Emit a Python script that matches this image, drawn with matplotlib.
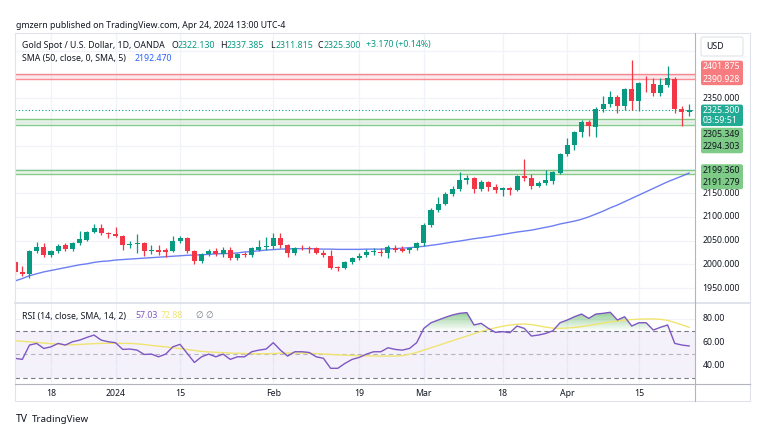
import numpy as np
import matplotlib
matplotlib.use("Agg")
import matplotlib.pyplot as plt
from matplotlib.patches import FancyBboxPatch, Rectangle
from matplotlib.colors import LinearSegmentedColormap
from matplotlib.path import Path

plt.rcParams['font.family'] = ['Noto Sans', 'DejaVu Sans']

# ---------------- data ----------------
opens = [2005, 1983, 1979, 2027, 2036, 2019, 2027, 2040, 2032, 2045,
         2052, 2068, 2076, 2066, 2064, 2059, 2040, 2043, 2045, 2028,
         2031, 2030, 2028, 2049, 2055, 2028, 2006, 2022, 2029, 2021,
         2030, 2014, 2021, 2020, 2031, 2037, 2038, 2055, 2040, 2024,
         2035, 2035, 2034, 2024, 2018, 1994, 1993, 2004, 2014, 2019,
         2025, 2026, 2024, 2035, 2032, 2030, 2034, 2044, 2083, 2114,
         2127, 2148, 2159, 2178, 2182, 2158, 2174, 2162, 2156, 2160,
         2157, 2186, 2181, 2165, 2171, 2176, 2193, 2233, 2251, 2280,
         2299, 2290, 2328, 2339, 2352, 2333, 2370, 2344, 2383, 2381,
         2361, 2379, 2391, 2327, 2322.130]
highs = [2008, 1996, 2030, 2047, 2045, 2030, 2043, 2045, 2048, 2071,
         2070, 2084, 2086, 2069, 2079, 2061, 2050, 2064, 2048, 2040,
         2040, 2035, 2060, 2059, 2058, 2031, 2024, 2033, 2035, 2036,
         2036, 2023, 2025, 2036, 2051, 2058, 2066, 2065, 2043, 2037,
         2040, 2038, 2036, 2030, 2030, 1996, 2008, 2016, 2024, 2032,
         2035, 2035, 2041, 2040, 2039, 2037, 2047, 2088, 2119, 2141,
         2152, 2165, 2195, 2189, 2185, 2177, 2176, 2170, 2164, 2164,
         2188, 2222, 2191, 2176, 2199, 2197, 2235, 2266, 2281, 2305,
         2305, 2331, 2354, 2365, 2358, 2372, 2431, 2384, 2397, 2392,
         2392, 2418, 2395, 2333, 2337.385]
lows = [1978, 1976, 1972, 2024, 2015, 2016, 2024, 2029, 2029, 2040,
        2050, 2066, 2062, 2056, 2057, 2031, 2035, 2024, 2017, 2022,
        2020, 2016, 2025, 2045, 2024, 2001, 2002, 2018, 2017, 2015,
        2010, 2010, 2015, 2016, 2028, 2031, 2033, 2034, 2015, 2020,
        2030, 2023, 2021, 2015, 1990, 1985, 1990, 2001, 2010, 2015,
        2020, 2017, 2014, 2025, 2026, 2024, 2030, 2038, 2079, 2111,
        2124, 2144, 2155, 2170, 2150, 2155, 2155, 2150, 2145, 2146,
        2155, 2175, 2159, 2162, 2167, 2170, 2190, 2229, 2240, 2268,
        2270, 2268, 2321, 2331, 2318, 2325, 2326, 2324, 2363, 2355,
        2355, 2373, 2320, 2291, 2311.815]
closes = [1983, 1979, 2027, 2036, 2019, 2027, 2039, 2032, 2045, 2054,
          2068, 2076, 2065, 2063, 2060, 2040, 2043, 2045, 2028, 2030,
          2026, 2025, 2049, 2055, 2028, 2006, 2021, 2029, 2022, 2030,
          2013, 2021, 2019, 2034, 2037, 2039, 2056, 2040, 2024, 2035,
          2034, 2033, 2024, 2019, 1993, 1992, 2004, 2014, 2018, 2026,
          2027, 2024, 2037, 2031, 2029, 2034, 2044, 2083, 2114, 2127,
          2148, 2159, 2178, 2182, 2158, 2174, 2162, 2156, 2160, 2157,
          2186, 2181, 2165, 2172, 2178, 2194, 2233, 2252, 2280, 2299,
          2291, 2328, 2339, 2352, 2333, 2370, 2344, 2383, 2382, 2361,
          2379, 2392, 2327, 2322.130, 2325.300]
sma50 = [1965, 1970, 1976, 1980, 1984, 1987, 1990, 1993, 1996, 1999,
         2001, 2004, 2006, 2007, 2009, 2010, 2011, 2012, 2013, 2014,
         2015, 2016, 2017, 2018, 2019, 2019.5, 2020, 2021, 2022, 2022.5,
         2023, 2024, 2026, 2027, 2028.5, 2030, 2031, 2032, 2032.5, 2033,
         2033, 2033, 2032.5, 2032, 2032, 2031.5, 2031.5, 2031.5, 2031.5, 2032,
         2032, 2032, 2032.5, 2033, 2034, 2035, 2036.5, 2038, 2040, 2042,
         2044.5, 2047, 2049, 2051.5, 2054, 2056, 2058, 2060.5, 2063, 2065.5,
         2068, 2070, 2072, 2075, 2078, 2081, 2085, 2088, 2091, 2095,
         2100, 2106, 2112, 2119, 2125, 2132, 2139, 2146, 2153, 2160,
         2167, 2174, 2180, 2186, 2192.470]
rsi = [46.5, 45.6, 57.8, 59.2, 54.9, 56.3, 59.2, 57.8, 60.6, 62.0,
       64.3, 66.3, 62.0, 60.6, 59.8, 54.1, 54.4, 53.5, 49.8, 50.1,
       47.8, 50.1, 56.3, 58.4, 50.7, 43.0, 47.8, 50.1, 47.8, 50.1,
       45.6, 47.8, 47.8, 52.1, 53.5, 54.4, 59.8, 53.5, 48.4, 52.1,
       52.1, 51.5, 47.8, 46.5, 38.0, 38.0, 42.2, 45.6, 47.3, 50.1,
       52.1, 52.1, 55.5, 54.1, 53.5, 54.9, 59.8, 72.0, 76.8, 79.1,
       81.4, 83.4, 84.8, 85.4, 74.9, 76.3, 72.0, 68.6, 69.2, 68.3,
       74.0, 72.0, 65.5, 66.3, 67.7, 70.0, 76.8, 79.1, 81.9, 84.2,
       80.5, 84.2, 84.8, 85.7, 79.1, 81.9, 74.0, 76.8, 76.8, 70.6,
       72.9, 74.9, 59.2, 57.8, 57.03]
rsi_ma = [61.4, 61.0, 60.5, 60.0, 59.5, 59.0, 58.5, 58.0, 58.0, 58.3,
          58.7, 59.0, 59.2, 59.3, 59.3, 59.2, 59.2, 58.8, 58.3, 57.5,
          56.8, 56.3, 55.5, 54.8, 54.0, 53.2, 52.4, 52.0, 51.6, 51.3,
          51.0, 50.8, 50.6, 50.5, 50.4, 50.4, 50.6, 50.8, 51.0, 51.0,
          51.0, 50.8, 50.5, 50.2, 49.8, 49.5, 49.2, 48.9, 48.7, 48.6,
          48.5, 48.4, 48.4, 48.4, 48.8, 50.0, 51.5, 53.5, 55.5, 57.5,
          59.5, 61.5, 63.5, 65.5, 67.5, 69.5, 71.0, 72.5, 73.8, 74.8,
          75.5, 75.7, 75.2, 74.2, 73.0, 72.2, 72.0, 72.3, 72.8, 73.5,
          74.5, 75.5, 76.5, 77.5, 78.3, 79.0, 79.5, 79.8, 80.0, 80.0,
          79.7, 78.8, 77.0, 75.0, 72.88]
tick_idx = [5, 14, 23, 36, 48, 57, 68, 77, 87]
tick_labels = ['18', '2024', '15', 'Feb', '19', 'Mar', '18', 'Apr', '15']
price_levels = [1950, 2000, 2050, 2100, 2150, 2200, 2250, 2300, 2350, 2400, 2450]
rsi_levels = [40, 60, 80]
resistance = (2390.928, 2401.875)
support_hi = (2294.303, 2305.349)
support_lo = (2191.279, 2199.360)
countdown = '03:59:51'

GREEN = '#089981'
RED = '#F23645'
PURPLE = '#7E57C2'
YELLOW = '#F0E470'
TXT = '#131722'
GRID = '#F0F3FA'

o = np.array(opens, float); h = np.array(highs, float)
l = np.array(lows, float); c = np.array(closes, float)
n = len(o)
xs = np.arange(n)

W, H = 765, 432
fig = plt.figure(figsize=(W / 100, H / 100), dpi=100)
fig.patch.set_facecolor('white')
L, R = 15, 695
TOP, MID, BOT = 33, 303, 383
ax = fig.add_axes([L / W, 1 - MID / H, (R - L) / W, (MID - TOP) / H])
axr = fig.add_axes([L / W, 1 - BOT / H, (R - L) / W, (BOT - MID) / H])
XL = (-0.02, 94.82)
for a in (ax, axr):
    a.axis('off')

# ---------- main pane ----------
for i in tick_idx:
    ax.axvline(i, color=GRID, lw=0.9, zorder=0)
    axr.axvline(i, color=GRID, lw=0.9, zorder=0)
for p in price_levels:
    ax.axhline(p, color=GRID, lw=0.9, zorder=0)

for (lo, hi), col in [(resistance, '#F7525F'), (support_hi, '#4CAF50'), (support_lo, '#4CAF50')]:
    ax.axhspan(lo, hi, color=col, alpha=0.12, lw=0, zorder=1)
    ax.axhline(lo, color=col, lw=1.0, alpha=0.65, zorder=1)
    ax.axhline(hi, color=col, lw=1.0, alpha=0.65, zorder=1)

ax.axhline(c[-1], color=GREEN, lw=0.8, ls=(0, (1, 2)), zorder=1)
ax.plot(xs, sma50, color='#5468F0', lw=1.0, alpha=0.85, zorder=2)

up = c >= o
cols = np.where(up, GREEN, RED)
ax.vlines(xs, l, h, colors=cols, lw=0.9, zorder=3)
ax.bar(xs, np.maximum(np.abs(c - o), 1.2), bottom=np.minimum(o, c), width=0.7,
       color=cols, lw=0, zorder=4)
ax.set_xlim(*XL)
ax.set_ylim(1918.4, 2487.7)

# ---------- RSI pane ----------
r = np.array(rsi)
axr.axhspan(30, 70, color=PURPLE, alpha=0.08, lw=0, zorder=0)
for lv in rsi_levels:
    axr.axhline(lv, color=GRID, lw=0.8, zorder=0)
axr.axhline(70, color='#787B86', lw=0.8, ls=(0, (4, 3)), zorder=1)
axr.axhline(30, color='#787B86', lw=0.8, ls=(0, (4, 3)), zorder=1)
axr.axhline(50, color='#787B86', lw=0.8, alpha=0.5, ls=(0, (4, 3)), zorder=1)
poly = axr.fill_between(xs, r, 70, where=r > 70, interpolate=True,
                        facecolor='none', edgecolor='none')
paths = poly.get_paths()
if len(paths):
    cpath = Path.make_compound_path(*paths)
    gcmap = LinearSegmentedColormap.from_list(
        'g', [(0.30, 0.69, 0.31, 0.0), (0.30, 0.69, 0.31, 0.6)])
    grad = np.linspace(0, 1, 256).reshape(-1, 1)
    im = axr.imshow(grad, extent=[xs[0], xs[-1], 70, r.max()], origin='lower',
                    cmap=gcmap, aspect='auto', zorder=1, interpolation='bilinear')
    im.set_clip_path(cpath, transform=axr.transData)
axr.plot(xs, rsi_ma, color=YELLOW, lw=1.0, zorder=2)
axr.plot(xs, r, color=PURPLE, lw=1.0, zorder=3)
axr.set_xlim(*XL)
axr.set_ylim(25.5, 93.6)

# ---------- overlay (frame, axis labels, headers) ----------
ov = fig.add_axes([0, 0, 1, 1])
ov.set_xlim(0, W); ov.set_ylim(H, 0); ov.axis('off')


def py(a, v):
    return H - a.transData.transform((0, v))[1]


def px(a, i):
    return a.transData.transform((i, 0))[0]


ov.add_patch(Rectangle((15, 33), 735, 368, fill=False, ec='#E0E3EB', lw=0.8))
ov.plot([15, 750], [303, 303], color='#E0E3EB', lw=1.4)
ov.plot([15, 750], [384, 384], color='#B2B5BE', lw=0.8)
ov.plot([695, 695], [33, 401], color='#B2B5BE', lw=0.8)

FS = 6.3
LX = 702.5
covered = []


def box(yc, hgt, fc, lines, tc, ec='none', tx=LX, dy=None):
    ov.add_patch(FancyBboxPatch((701, yc - hgt / 2), 42, hgt,
                                boxstyle='round,pad=0,rounding_size=2',
                                fc=fc, ec=ec, lw=0.8, zorder=5))
    covered.append((yc - hgt / 2, yc + hgt / 2))
    k = len(lines)
    for j, t in enumerate(lines):
        off = dy[j] if dy else (j - (k - 1) / 2) * 12.4
        ov.text(tx, yc + off, t, fontsize=FS, color=tc,
                va='center', ha='left', zorder=6)


box(46.5, 19, 'white', ['USD'], TXT, ec='#E0E3EB', tx=706.5)
ym = (py(ax, resistance[0]) + py(ax, resistance[1])) / 2
box(ym - 3.4, 24.5, '#F77C80', [f'{resistance[1]:.3f}', f'{resistance[0]:.3f}'], 'white')
ym = py(ax, c[-1])
box(ym + 5.3, 21.5, '#22AB94', [f'{c[-1]:.3f}', countdown], 'white', dy=[-5.1, 4.9])
ym = (py(ax, support_hi[0]) + py(ax, support_hi[1])) / 2
box(ym + 18.4, 25.5, '#7DCB86', [f'{support_hi[1]:.3f}', f'{support_hi[0]:.3f}'], TXT)
ym = (py(ax, support_lo[0]) + py(ax, support_lo[1])) / 2
box(ym + 5.1, 25, '#7DCB86', [f'{support_lo[1]:.3f}', f'{support_lo[0]:.3f}'], TXT)

for p in price_levels:
    y = py(ax, p)
    if any(a0 - 1 <= y <= b0 + 1 for a0, b0 in covered):
        continue
    if 40 < y < 300:
        ov.text(LX, y, f'{p:.3f}', fontsize=FS, color=TXT, va='center', ha='left', zorder=4)
for lv in rsi_levels:
    ov.text(LX, py(axr, lv), f'{lv:.2f}', fontsize=FS, color=TXT, va='center', ha='left')

for i, t in zip(tick_idx, tick_labels):
    ov.text(px(ax, i), 393, t, fontsize=FS, color=TXT, ha='center', va='center')

ov.text(16, 25, 'gmzern published on TradingView.com, Apr 24, 2024 13:00 UTC-4',
        fontsize=FS, color=TXT, va='center')
ov.text(22, 45, 'Gold Spot / U.S. Dollar, 1D, OANDA', fontsize=FS, color=TXT, va='center')
chg = c[-1] - c[-2]
for xl, lab, xv, val in [(172, 'O', 177.5, o[-1]), (220.5, 'H', 226.5, h[-1]),
                         (270.5, 'L', 275.5, l[-1]), (318, 'C', 323.5, c[-1])]:
    ov.text(xl, 45, lab, fontsize=FS, color=TXT, va='center')
    ov.text(xv, 45, f'{val:.3f}', fontsize=FS, color=GREEN, va='center')
ov.text(366.5, 45, f'{chg:+.3f} ({chg / c[-2] * 100:+.2f}%)', fontsize=FS, color=GREEN, va='center')
ov.text(22, 58.5, 'SMA (50, close, 0, SMA, 5)', fontsize=FS, color=TXT, va='center')
ov.text(135, 58.5, f'{sma50[-1]:.3f}', fontsize=FS, color='#2962FF', va='center')

ov.text(22, 316, 'RSI (14, close, SMA, 14, 2)', fontsize=FS, color=TXT, va='center')
ov.text(135, 316, f'{rsi[-1]:.2f}', fontsize=FS, color=PURPLE, va='center')
ov.text(160.5, 316, f'{rsi_ma[-1]:.2f}', fontsize=FS, color=YELLOW, va='center')
ov.text(195, 316, '\u2205', fontsize=FS, color='#787B86', va='center')
ov.text(205, 316, '\u2205', fontsize=FS, color='#787B86', va='center')

ov.text(16, 419, 'TV', fontsize=7.5, color=TXT, va='center', fontweight='bold')
ov.text(32, 419, 'TradingView', fontsize=7, color=TXT, va='center')

fig.savefig('out.png', dpi=100, facecolor='white')
